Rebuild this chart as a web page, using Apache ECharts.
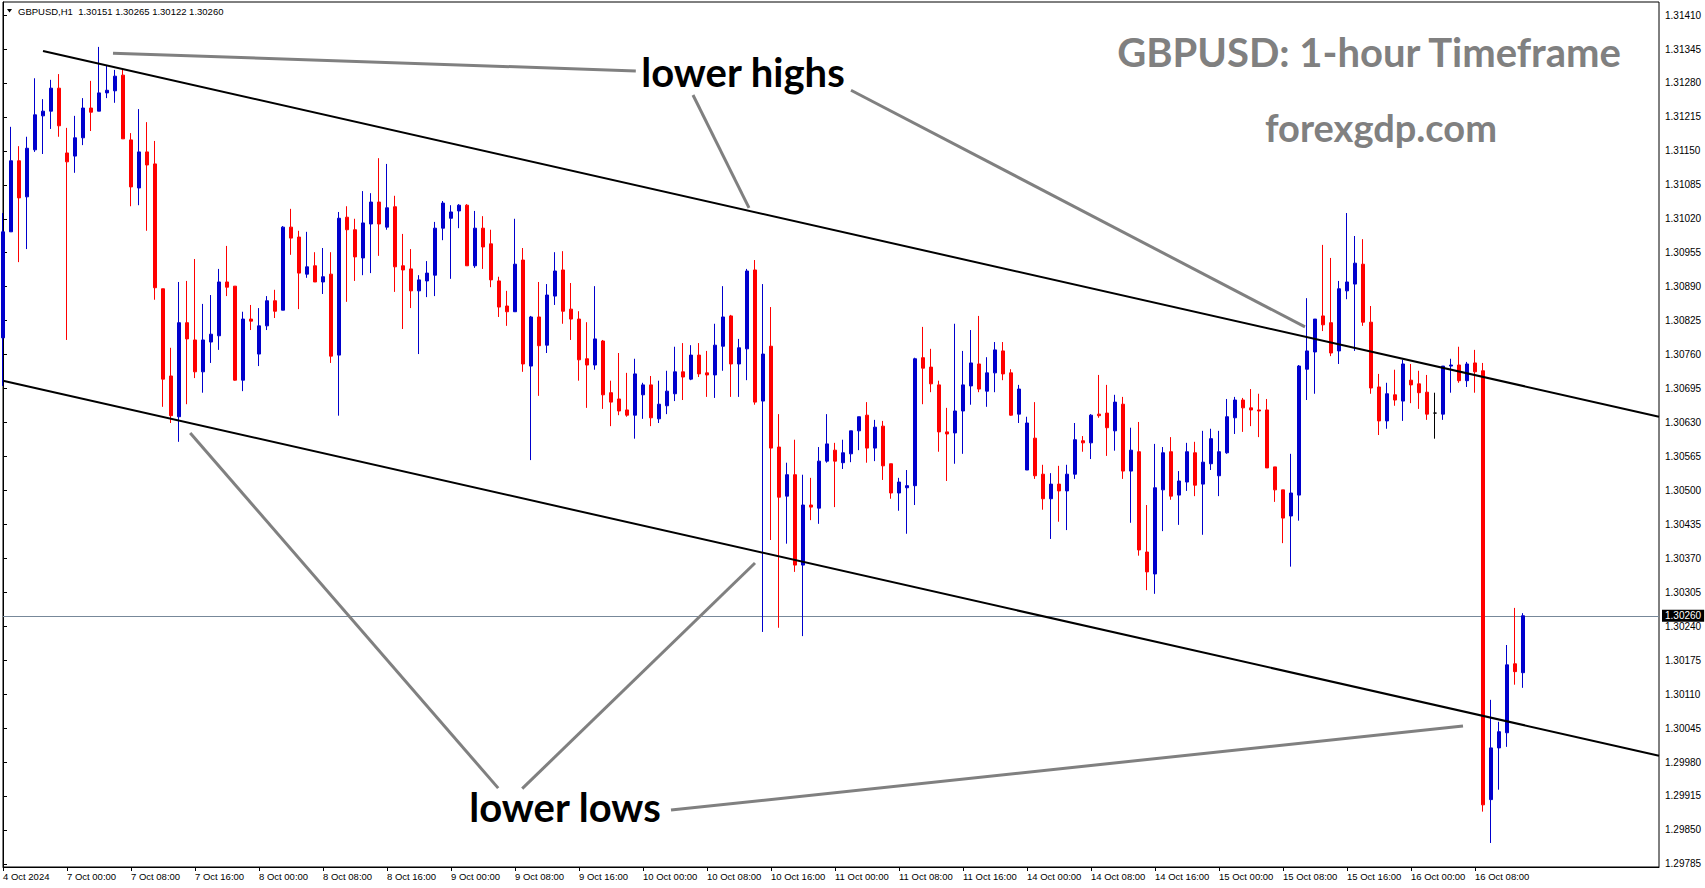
<!DOCTYPE html>
<html>
<head>
<meta charset="utf-8">
<title>GBPUSD H1</title>
<script src="https://cdn.jsdelivr.net/npm/echarts@6.0.0/dist/echarts.min.js"></script>
<style>
  html, body { margin: 0; padding: 0; background: #fff; }
  #chart { width: 1705px; height: 888px; }
</style>
</head>
<body>
<div id="chart"></div>
<script>
(function (window, document, echarts) {

  /** hourly bars, 4 Oct 16:00 .. 16 Oct 14:00 **/
  var opens = [
    1.30792,1.30995,1.31131,1.31062,1.31152,1.31217,1.31226,1.31270,1.31146,1.31140,
    1.31175,1.31232,1.31226,1.31261,1.31265,1.31295,1.31171,1.31079,1.31148,1.31125,
    1.30886,1.30719,1.30641,1.30821,1.30788,1.30727,1.30784,1.30796,1.30899,1.30891,
    1.30711,1.30828,1.30761,1.30815,1.30863,1.30845,1.31004,1.30985,1.30914,1.30930,
    1.30899,1.30914,1.30759,1.31023,1.30999,1.30945,1.31010,1.31052,1.31004,1.31043,
    1.30930,1.30924,1.30882,1.30901,1.30912,1.31002,1.31021,1.31035,1.31046,1.30930,
    1.31002,1.30972,1.30901,1.30853,1.30842,1.30941,1.30738,1.30832,1.30778,1.30872,
    1.30922,1.30847,1.30828,1.30752,1.30740,1.30786,1.30687,1.30675,1.30654,1.30644,
    1.30683,1.30702,1.30637,1.30662,1.30685,1.30727,1.30713,1.30759,1.30725,1.30721,
    1.30776,1.30834,1.30742,1.30771,1.30922,1.30671,1.30776,1.30583,1.30489,1.30530,
    1.30357,1.30472,1.30466,1.30556,1.30577,1.30553,1.30570,1.30614,1.30644,1.30581,
    1.30623,1.30551,1.30495,1.30505,1.30509,1.30754,1.30736,1.30702,1.30612,1.30610,
    1.30652,1.30700,1.30742,1.30690,1.30725,1.30767,1.30725,1.30646,1.30539,1.30600,
    1.30531,1.30484,1.30512,1.30499,1.30531,1.30595,1.30591,1.30646,1.30648,1.30614,
    1.30665,1.30537,1.30574,1.30382,1.30340,1.30501,1.30574,1.30491,1.30516,1.30572,
    1.30512,1.30551,1.30528,1.30572,1.30639,1.30673,1.30658,1.30654,1.30654,1.30545,
    1.30501,1.30451,1.30491,1.30732,1.30765,1.30834,1.30821,1.30767,1.30882,1.30895,
    1.30933,1.30822,1.30698,1.30633,1.30683,1.30671,1.30711,1.30704,1.30688,1.30648,
    1.30646,1.30738,1.30740,1.30710,1.30744,1.30729,1.29908,1.30007,1.30036,1.30168,
    1.30151
  ];
  var highs = [
    1.31031,1.31196,1.31159,1.31177,1.31289,1.31249,1.31286,1.31297,1.31194,1.31217,
    1.31251,1.31284,1.31349,1.31314,1.31305,1.31307,1.31184,1.31230,1.31205,1.31169,
    1.30886,1.30773,1.30899,1.30901,1.30943,1.30857,1.30874,1.30924,1.30968,1.30891,
    1.30842,1.30855,1.30849,1.30872,1.30884,1.31006,1.31039,1.30997,1.30995,1.30956,
    1.30964,1.30956,1.31033,1.31044,1.31020,1.31073,1.31069,1.31136,1.31125,1.31064,
    1.30991,1.30962,1.30912,1.30939,1.31014,1.31054,1.31046,1.31048,1.31048,1.31035,
    1.31025,1.30999,1.30909,1.30882,1.31020,1.30964,1.30834,1.30899,1.30895,1.30956,
    1.30958,1.30897,1.30843,1.30822,1.30891,1.30788,1.30710,1.30763,1.30725,1.30752,
    1.30706,1.30719,1.30710,1.30729,1.30775,1.30782,1.30778,1.30782,1.30767,1.30819,
    1.30891,1.30836,1.30790,1.30924,1.30941,1.30895,1.30851,1.30646,1.30553,1.30597,
    1.30530,1.30524,1.30583,1.30646,1.30591,1.30597,1.30614,1.30641,1.30669,1.30635,
    1.30633,1.30551,1.30524,1.30539,1.30754,1.30813,1.30771,1.30710,1.30658,1.30819,
    1.30767,1.30807,1.30834,1.30755,1.30784,1.30784,1.30732,1.30702,1.30641,1.30669,
    1.30549,1.30533,1.30547,1.30549,1.30629,1.30604,1.30646,1.30721,1.30702,1.30683,
    1.30679,1.30620,1.30631,1.30472,1.30589,1.30583,1.30602,1.30537,1.30591,1.30593,
    1.30614,1.30618,1.30614,1.30675,1.30679,1.30677,1.30694,1.30685,1.30675,1.30545,
    1.30501,1.30570,1.30740,1.30868,1.30828,1.30970,1.30945,1.30901,1.31031,1.30987,
    1.30981,1.30853,1.30723,1.30706,1.30731,1.30750,1.30742,1.30729,1.30721,1.30687,
    1.30738,1.30752,1.30775,1.30746,1.30769,1.30744,1.30099,1.30057,1.30204,1.30275,
    1.30265
  ];
  var lows = [
    1.30700,1.30995,1.30937,1.30962,1.31148,1.31144,1.31192,1.31177,1.30788,1.31108,
    1.31161,1.31188,1.31226,1.31251,1.31242,1.31173,1.31044,1.31046,1.30997,1.30865,
    1.30660,1.30629,1.30593,1.30665,1.30715,1.30687,1.30744,1.30769,1.30872,1.30710,
    1.30690,1.30807,1.30738,1.30807,1.30830,1.30845,1.30951,1.30847,1.30907,1.30899,
    1.30876,1.30744,1.30643,1.30861,1.30901,1.30912,1.30916,1.30949,1.30999,1.30880,
    1.30809,1.30849,1.30761,1.30870,1.30872,1.30979,1.30905,1.31002,1.30930,1.30926,
    1.30924,1.30889,1.30832,1.30815,1.30842,1.30727,1.30558,1.30681,1.30763,1.30855,
    1.30819,1.30788,1.30710,1.30658,1.30731,1.30656,1.30623,1.30644,1.30641,1.30599,
    1.30637,1.30623,1.30629,1.30646,1.30671,1.30673,1.30711,1.30717,1.30679,1.30677,
    1.30729,1.30679,1.30679,1.30711,1.30664,1.30229,1.30405,1.30237,1.30398,1.30344,
    1.30221,1.30443,1.30436,1.30553,1.30468,1.30541,1.30554,1.30577,1.30553,1.30556,
    1.30520,1.30484,1.30461,1.30417,1.30472,1.30665,1.30688,1.30574,1.30518,1.30551,
    1.30570,1.30664,1.30688,1.30660,1.30688,1.30711,1.30643,1.30629,1.30539,1.30522,
    1.30463,1.30407,1.30440,1.30424,1.30522,1.30574,1.30560,1.30639,1.30566,1.30576,
    1.30522,1.30438,1.30375,1.30309,1.30302,1.30422,1.30482,1.30434,1.30499,1.30489,
    1.30415,1.30539,1.30489,1.30570,1.30608,1.30612,1.30623,1.30602,1.30543,1.30478,
    1.30399,1.30354,1.30442,1.30673,1.30685,1.30805,1.30757,1.30742,1.30866,1.30767,
    1.30815,1.30685,1.30606,1.30618,1.30662,1.30633,1.30667,1.30656,1.30635,1.30599,
    1.30635,1.30687,1.30706,1.30698,1.30687,1.29885,1.29825,1.29927,1.30009,1.30128,
    1.30122
  ];
  var closes = [
    1.30995,1.31131,1.31060,1.31155,1.31219,1.31226,1.31270,1.31198,1.31129,1.31175,
    1.31232,1.31224,1.31261,1.31266,1.31293,1.31173,1.31081,1.31148,1.31123,1.30888,
    1.30713,1.30643,1.30821,1.30790,1.30727,1.30788,1.30799,1.30899,1.30889,1.30711,
    1.30828,1.30824,1.30815,1.30863,1.30843,1.31004,1.30983,1.30916,1.30928,1.30899,
    1.30909,1.30757,1.31021,1.30999,1.30947,1.31012,1.31052,1.31010,1.31041,1.30928,
    1.30922,1.30882,1.30903,1.30916,1.31002,1.31050,1.31033,1.31046,1.30930,1.31002,
    1.30966,1.30903,1.30851,1.30842,1.30933,1.30742,1.30832,1.30777,1.30874,1.30920,
    1.30843,1.30828,1.30750,1.30740,1.30790,1.30683,1.30669,1.30652,1.30644,1.30723,
    1.30702,1.30639,1.30665,1.30690,1.30727,1.30717,1.30759,1.30723,1.30721,1.30778,
    1.30832,1.30742,1.30773,1.30920,1.30669,1.30761,1.30581,1.30487,1.30530,1.30357,
    1.30472,1.30468,1.30556,1.30589,1.30556,1.30572,1.30614,1.30641,1.30581,1.30621,
    1.30547,1.30495,1.30516,1.30509,1.30752,1.30734,1.30704,1.30612,1.30608,1.30652,
    1.30702,1.30744,1.30694,1.30725,1.30769,1.30723,1.30644,1.30694,1.30629,1.30528,
    1.30484,1.30512,1.30499,1.30531,1.30597,1.30591,1.30644,1.30643,1.30620,1.30669,
    1.30537,1.30577,1.30386,1.30344,1.30505,1.30572,1.30489,1.30518,1.30574,1.30510,
    1.30554,1.30599,1.30574,1.30641,1.30673,1.30658,1.30654,1.30652,1.30543,1.30501,
    1.30447,1.30495,1.30738,1.30767,1.30828,1.30817,1.30763,1.30886,1.30899,1.30935,
    1.30822,1.30696,1.30633,1.30685,1.30673,1.30742,1.30702,1.30687,1.30646,1.30648,
    1.30738,1.30740,1.30710,1.30742,1.30727,1.29898,1.30007,1.30038,1.30166,1.30153,
    1.30260
  ];

  // one label every 8 bars, starting at the first bar
  var tickLabels = [
    '4 Oct 2024','7 Oct 00:00','7 Oct 08:00','7 Oct 16:00','8 Oct 00:00','8 Oct 08:00',
    '8 Oct 16:00','9 Oct 00:00','9 Oct 08:00','9 Oct 16:00','10 Oct 00:00','10 Oct 08:00',
    '10 Oct 16:00','11 Oct 00:00','11 Oct 08:00','11 Oct 16:00','14 Oct 00:00','14 Oct 08:00',
    '14 Oct 16:00','15 Oct 00:00','15 Oct 08:00','15 Oct 16:00','16 Oct 00:00','16 Oct 08:00'
  ];
  var priceTicks = [
    1.29785,1.29850,1.29915,1.29980,1.30045,1.30110,1.30175,1.30240,1.30305,1.30370,
    1.30435,1.30500,1.30565,1.30630,1.30695,1.30760,1.30825,1.30890,1.30955,1.31020,
    1.31085,1.31150,1.31215,1.31280,1.31345,1.31410
  ];

  // trend lines, [bar position, price]
  var channelLines = [
    [[5, 1.31341], [207, 1.30641]],
    [[0, 1.30710], [207, 1.29992]]
  ];
  var pointerLines = [
    [[13.75, 1.31337], [79.1, 1.31303]],
    [[86.25, 1.31257], [93.25, 1.31041]],
    [[106, 1.31266], [162.75, 1.30813]],
    [[23.4, 1.30610], [61.9, 1.29930]],
    [[64.9, 1.29929], [94, 1.30361]],
    [[83.5, 1.29888], [182.5, 1.30049]]
  ];

  var emptyBars = 17;
  var total = opens.length + emptyBars;
  var last = opens.length - 1;

  var categories = [];
  var candleData = [];
  for (var i = 0; i < total; i++) {
    categories.push(i % 8 === 0 && tickLabels[i / 8] ? tickLabels[i / 8] : '');
    candleData.push(i <= last ? [opens[i], closes[i], lows[i], highs[i]] : '-');
  }
  var showTick = function (idx) { return idx % 8 === 0 && idx / 8 < tickLabels.length; };

  var header = 'GBPUSD,H1  ' + [opens[last], highs[last], lows[last], closes[last]]
    .map(function (v) { return v.toFixed(5); }).join(' ');

  var axisFont = '"Liberation Sans", Arial, sans-serif';
  var bigFont = 'Lato, "Open Sans", sans-serif';

  var chart = echarts.init(document.getElementById('chart'), null, { renderer: 'svg' });

  var option = {
    animation: false,
    backgroundColor: '#fff',
    grid: { left: 3, right: 46, top: 2, bottom: 21, show: true, borderColor: '#000', borderWidth: 1 },
    xAxis: [
      {
        type: 'category',
        data: categories,
        boundaryGap: false,
        axisLine: { lineStyle: { color: '#000', width: 1 } },
        axisTick: { show: true, length: 4, interval: showTick, lineStyle: { color: '#000' } },
        axisLabel: { interval: showTick, align: 'left', margin: 4, fontSize: 9.5, color: '#000', fontFamily: axisFont },
        splitLine: { show: false }
      },
      { type: 'value', min: 0, max: total - 1, show: false }
    ],
    yAxis: {
      type: 'value',
      position: 'right',
      min: 1.29779,
      max: 1.31435,
      axisLine: { show: true, lineStyle: { color: '#000' } },
      axisTick: { show: true, length: 4, customValues: priceTicks, lineStyle: { color: '#000' } },
      axisLabel: {
        customValues: priceTicks, margin: 6, fontSize: 10, color: '#000', fontFamily: axisFont,
        formatter: function (v) { return Number(v).toFixed(5); }
      },
      splitLine: { show: false }
    },
    graphic: [
      { type: 'polygon', shape: { points: [[7, 9], [12, 9], [9.5, 12.5]] }, style: { fill: '#000' } },
      { type: 'text', x: 18, y: 11, style: { text: header, font: '9.5px ' + axisFont, fill: '#000', verticalAlign: 'middle', textVerticalAlign: 'middle' } },
      { type: 'text', x: 1369, y: 52, style: { text: 'GBPUSD: 1-hour Timeframe', font: 'bold 40px ' + bigFont, fill: '#808080', align: 'center', textAlign: 'center', verticalAlign: 'middle', textVerticalAlign: 'middle' } },
      { type: 'text', x: 1381, y: 127, style: { text: 'forexgdp.com', font: 'bold 38px ' + bigFont, fill: '#808080', align: 'center', textAlign: 'center', verticalAlign: 'middle', textVerticalAlign: 'middle' } },
      { type: 'text', x: 743, y: 72, style: { text: 'lower highs', font: 'bold 40px ' + bigFont, fill: '#000', align: 'center', textAlign: 'center', verticalAlign: 'middle', textVerticalAlign: 'middle' } },
      { type: 'text', x: 565, y: 807, style: { text: 'lower lows', font: 'bold 40px ' + bigFont, fill: '#000', align: 'center', textAlign: 'center', verticalAlign: 'middle', textVerticalAlign: 'middle' } }
    ],
    series: [
      {
        type: 'candlestick',
        xAxisIndex: 0,
        yAxisIndex: 0,
        data: candleData,
        barWidth: 4,
        z: 2,
        silent: true,
        itemStyle: {
          color: '#0000cd', color0: '#ff0000',
          borderColor: '#0000cd', borderColor0: '#ff0000',
          borderColorDoji: '#000', borderWidth: 1
        },
        markLine: {
          silent: true,
          symbol: 'none',
          precision: 5,
          z: 1,
          lineStyle: { color: '#778899', width: 1, type: 'solid' },
          label: {
            position: 'end', distance: 3,
            formatter: function (p) { return Number(p.value).toFixed(5); },
            backgroundColor: '#000', color: '#fff', fontSize: 10, fontFamily: axisFont, padding: [1, 3, 1, 3]
          },
          data: [{ yAxis: closes[last] }]
        }
      },
      {
        type: 'lines',
        coordinateSystem: 'cartesian2d',
        xAxisIndex: 1,
        yAxisIndex: 0,
        z: 4,
        silent: true,
        lineStyle: { color: '#000', width: 2, opacity: 1, curveness: 0 },
        data: channelLines.map(function (c) { return { coords: c }; })
      },
      {
        type: 'lines',
        coordinateSystem: 'cartesian2d',
        xAxisIndex: 1,
        yAxisIndex: 0,
        z: 4,
        silent: true,
        lineStyle: { color: '#808080', width: 3, opacity: 1, curveness: 0 },
        data: pointerLines.map(function (c) { return { coords: c }; })
      }
    ]
  };

  chart.setOption(option);

})(window, document, echarts);
</script>
</body>
</html>
